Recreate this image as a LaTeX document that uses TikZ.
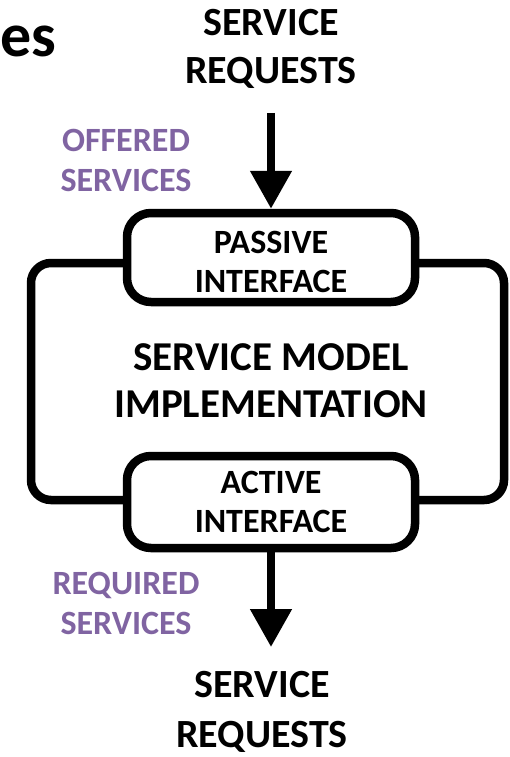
\documentclass[tikz,border=0pt]{standalone}
\usepackage{fontspec}
\setmainfont{Carlito}
\usetikzlibrary{arrows.meta}
\definecolor{offer}{HTML}{8064A2}
\tikzset{
  x=1pt, y=-1pt,
  heavy/.style={line width=8.5pt},
  ifacebox/.style={heavy, draw=black, fill=white, rounded corners=24pt},
  frame/.style={heavy, draw=black, rounded corners=20pt},
  flow/.style={line width=8pt, -{Triangle[length=38pt,width=40pt]}},
  biglabel/.style={align=center, inner sep=0pt, font=\bfseries\fontsize{40}{48}\selectfont},
  midlabel/.style={align=center, inner sep=0pt, font=\bfseries\fontsize{41}{47}\selectfont},
  boxlabel/.style={align=center, inner sep=0pt, font=\bfseries\fontsize{34}{39}\selectfont},
  svclabel/.style={align=center, inner sep=0pt, text=offer, font=\bfseries\fontsize{34}{40}\selectfont},
}
\begin{document}
\begin{tikzpicture}
\useasboundingbox (0,0) rectangle (509,757);

% partial title
\node[anchor=base west, inner sep=0pt, font=\bfseries\fontsize{62}{68}\selectfont] (title) at (0,57) {es};

% outer implementation frame
\draw[frame] (127,263) -- (31,263) -- (31,500) -- (127,500)
             (415,263) -- (504,263) -- (504,500) -- (415,500);

% interface boxes
\node[ifacebox, minimum width=288pt, minimum height=89pt] (passive) at (271,257.5) {};
\node[ifacebox, minimum width=288pt, minimum height=92pt] (active) at (271,502) {};

\node[boxlabel] (ptext) at (271,262) {PASSIVE\\INTERFACE};
\node[boxlabel] (atext) at (271,502) {ACTIVE\\INTERFACE};

\node[midlabel] (impl) at (271,381) {SERVICE MODEL\\IMPLEMENTATION};

% incoming and outgoing requests
\node[biglabel] (inreq) at (271,49) {SERVICE\\REQUESTS};
\node[biglabel, font=\bfseries\fontsize{40}{50}\selectfont] (outreq) at (262,712) {SERVICE\\REQUESTS};

\coordinate (intop) at (271,113);
\coordinate (outtip) at (271,647);
\draw[flow] (intop) -- (passive.north);
\draw[flow] (active.south) -- (outtip);

% service labels
\node[svclabel] (offered) at (126,160) {OFFERED\\SERVICES};
\node[svclabel] (required) at (126,603) {REQUIRED\\SERVICES};
\end{tikzpicture}
\end{document}
